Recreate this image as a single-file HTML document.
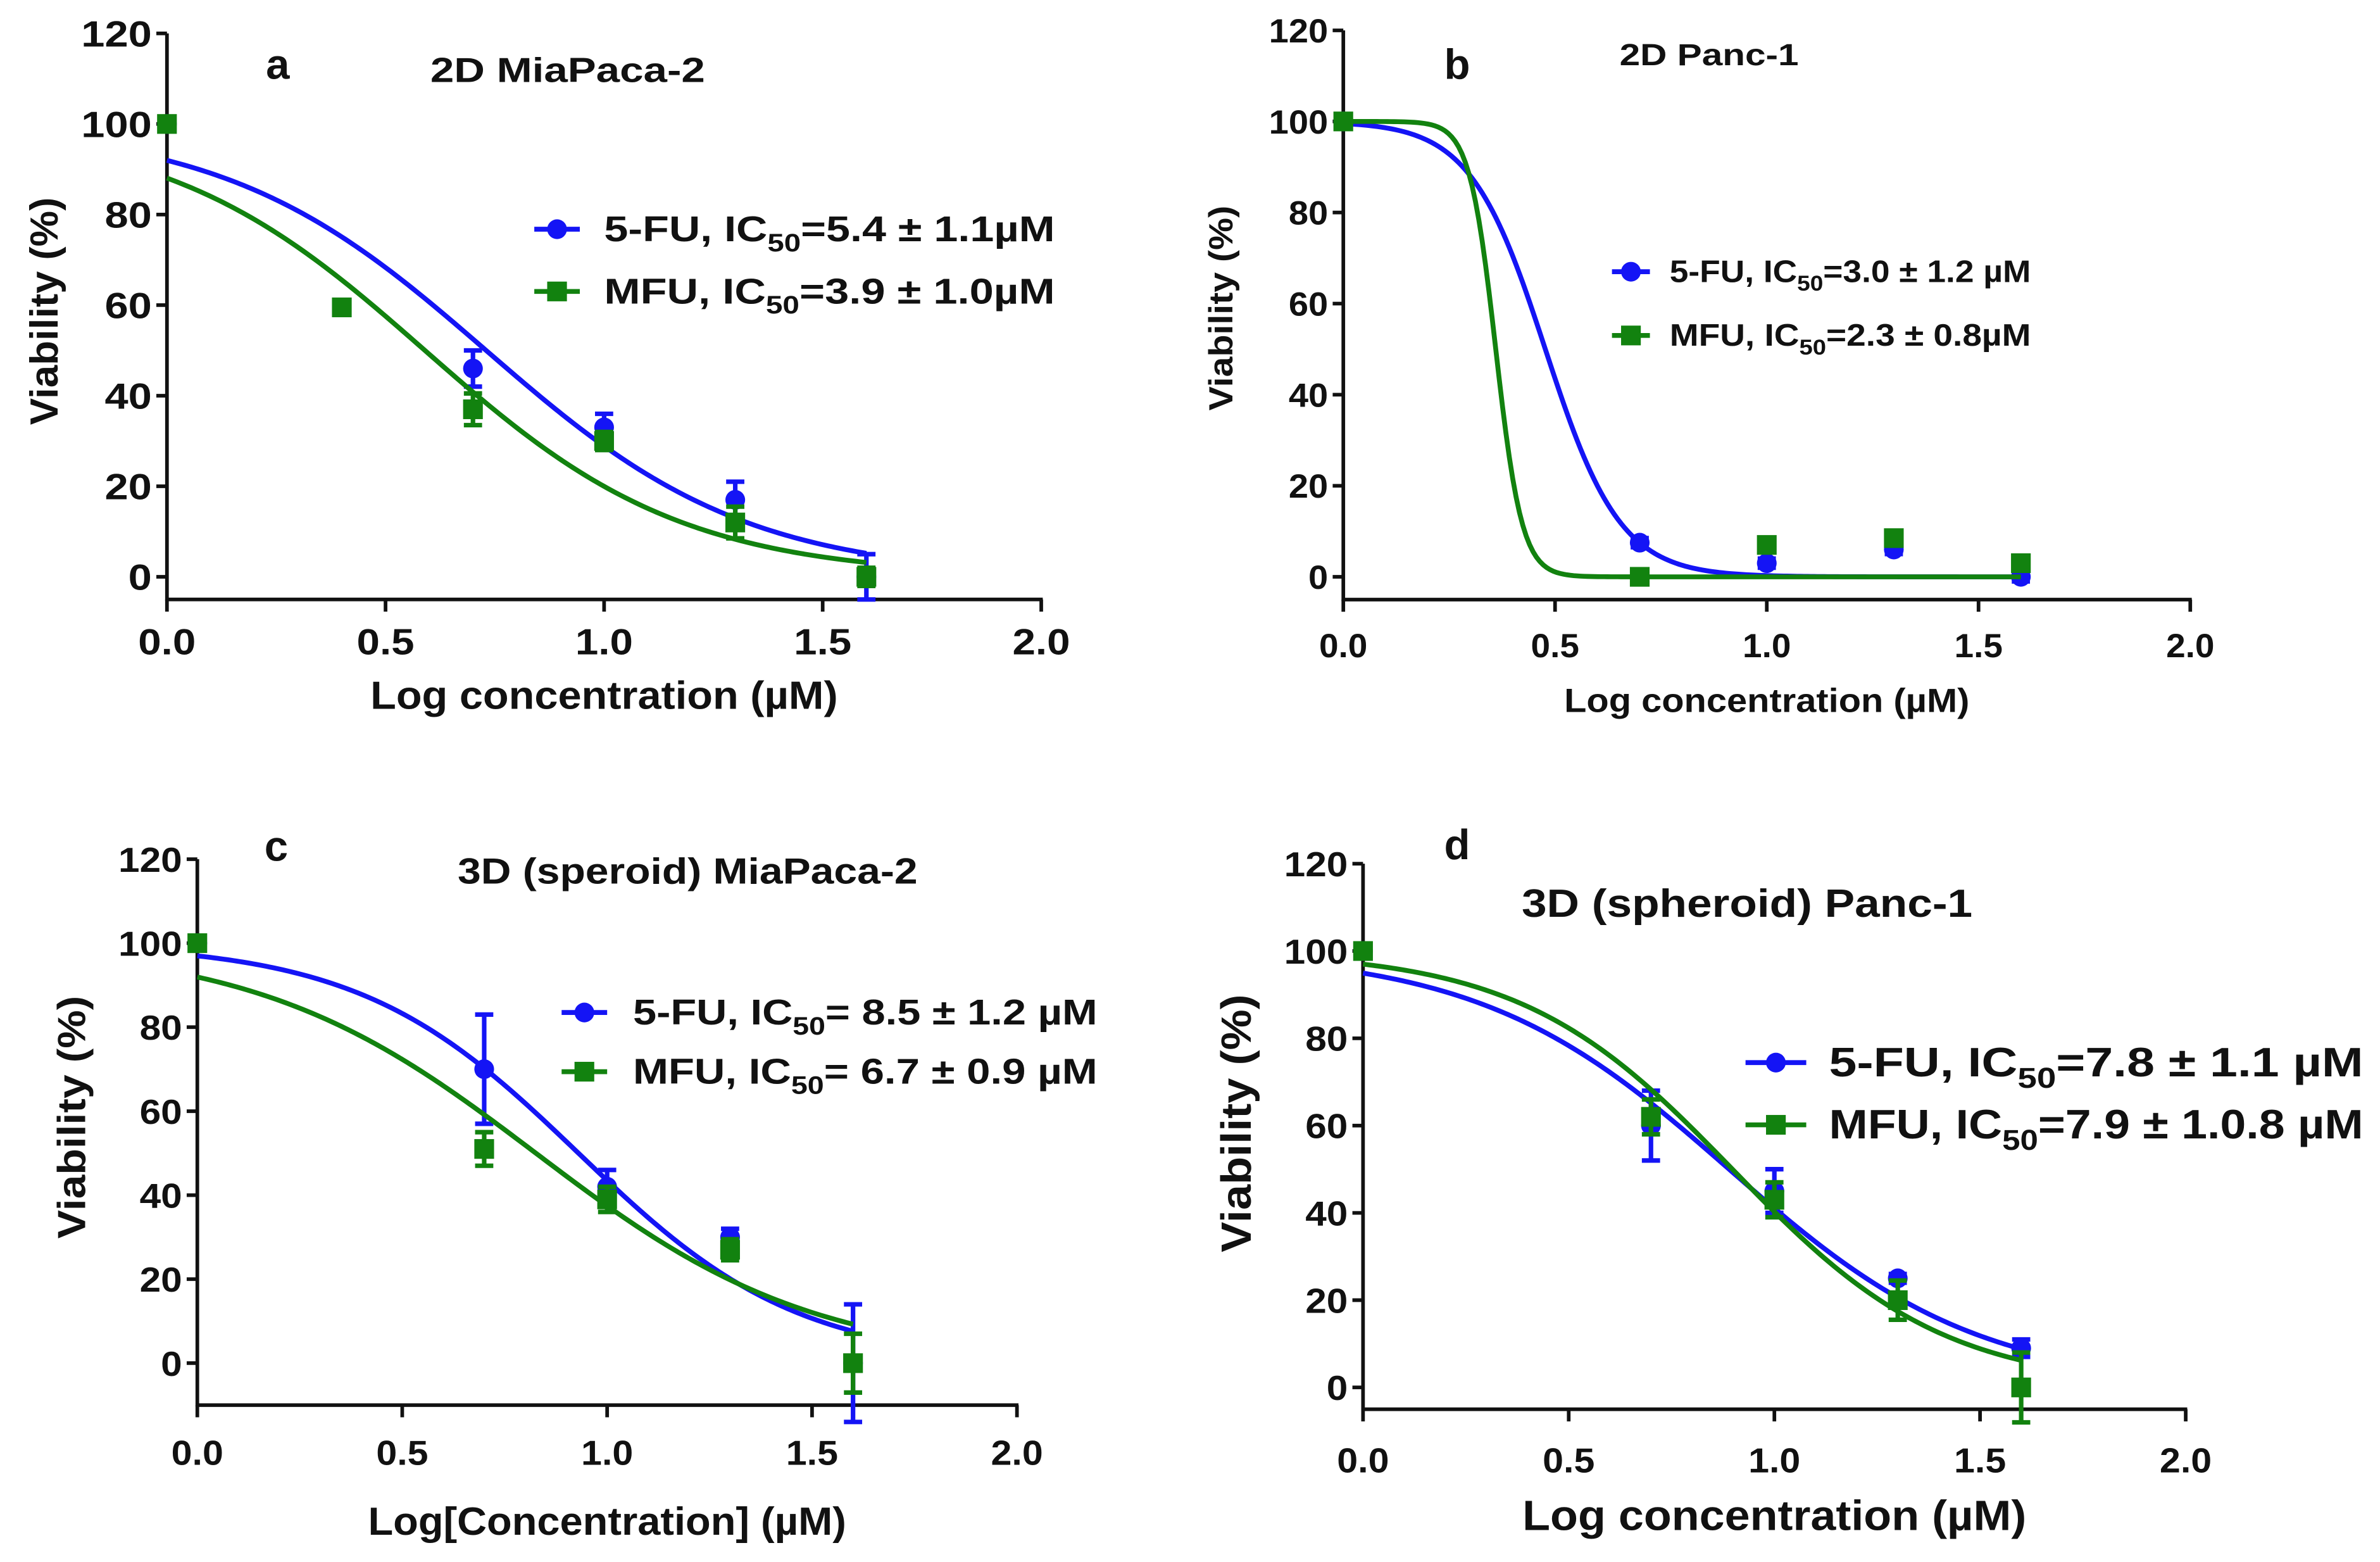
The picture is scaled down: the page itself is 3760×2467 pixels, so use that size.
<!DOCTYPE html>
<html><head><meta charset="utf-8"><style>
html,body{margin:0;padding:0;background:#fff}
svg{display:block}
text{font-family:"Liberation Sans Narrow","Liberation Sans",sans-serif;font-weight:bold;fill:#111}
</style></head><body>
<svg id="fig" width="3760" height="2467" viewBox="0 0 1568 1029" preserveAspectRatio="none" xmlns="http://www.w3.org/2000/svg"></svg>
<script>
// ---- data ----
const xTicks = [0, 0.5, 1.0, 1.5, 2.0];
const xTickLabels = ["0.0", "0.5", "1.0", "1.5", "2.0"];
const yTicks = [0, 20, 40, 60, 80, 100, 120];
const yTickLabels = ["0", "20", "40", "60", "80", "100", "120"];
// Panel a
const aFuX = [0, 0.7, 1.0, 1.3, 1.6];
const aFuY = [100, 46, 33, 17, 0];
const aFuErr = [0, 4, 3, 4, 5];
const aMfuX = [0, 0.4, 0.7, 1.0, 1.3, 1.6];
const aMfuY = [100, 59.5, 37, 30, 12, 0];
const aMfuErr = [0, 0, 3.5, 2, 3.5, 2];
const aFuFit = [100, 0, 0.73, 1.45];   // top, bottom, logIC50, hill
const aMfuFit = [100, 0, 0.59, 1.47];
// Panel b
const bFuX = [0, 0.7, 1.0, 1.3, 1.6];
const bFuY = [100, 7.5, 3, 6, 0];
const bFuErr = [0, 1, 1, 1, 1];
const bMfuX = [0, 0.7, 1.0, 1.3, 1.6];
const bMfuY = [100, 0, 7, 8.5, 3];
const bMfuErr = [0, 1, 1, 1, 1];
const bFuFit = [100, 0, 0.477, 4.9];
const bMfuFit = [100, 0, 0.36, 14];
// Panel c
const cFuX = [0, 0.7, 1.0, 1.3, 1.6];
const cFuY = [100, 70, 42, 30, 0];
const cFuErr = [0, 13, 4, 2, 14];
const cMfuX = [0, 0.7, 1.0, 1.3, 1.6];
const cMfuY = [100, 51, 39, 27, 0];
const cMfuErr = [0, 4, 3, 2.5, 7];
const cFuFit = [100, 0, 0.93, 1.62];
const cMfuFit = [100, 0, 0.826, 1.28];
// Panel d
const dFuX = [0, 0.7, 1.0, 1.3, 1.6];
const dFuY = [100, 60, 45, 25, 9];
const dFuErr = [0, 8, 5, 1, 2];
const dMfuX = [0, 0.7, 1.0, 1.3, 1.6];
const dMfuY = [100, 62, 43, 20, 0];
const dMfuErr = [0, 4, 4, 4.5, 8];
const dFuFit = [100, 0, 0.89, 1.43];
const dMfuFit = [100, 0, 0.898, 1.68];

const BLUE = "#1414f5", GREEN = "#12820f";
const svg = document.getElementById('fig');
const NS = "http://www.w3.org/2000/svg";
function mk(tag, attrs, parent) {
  const e = document.createElementNS(NS, tag);
  for (const k in attrs) e.setAttribute(k, attrs[k]);
  (parent || svg).appendChild(e);
  return e;
}
function tlen(s, dw) { let w = 0; for (const c of s) w += (c === '.') ? dw * 0.45 : dw; return w; }

const panels = [
  {id:'a', x0:110, x1:686, y0:380, y120:22, yMin:-5, tickFs:24, dw:15.5, titleFs:26, xTitleW:308, yTitleW:150, tickLabY:431,
   xTitle:"Log concentration (µM)", xTitleY:467, yTitleX:38, yTitleY:205,
   letter:[183,52,28], title:["2D MiaPaca-2",374,54,23,181], legY:[151,192], legX:[352,382,398], legFs:22, legW:297,
   fu:[aFuX,aFuY,aFuErr,aFuFit], mfu:[aMfuX,aMfuY,aMfuErr,aMfuFit],
   labels:["5-FU, IC","=5.4 ± 1.1µM","MFU, IC","=3.9 ± 1.0µM"]},
  {id:'b', x0:885, x1:1443, y0:380, y120:20, yMin:-5, tickFs:22, dw:13, titleFs:22, xTitleW:267, yTitleW:135, tickLabY:433,
   xTitle:"Log concentration (µM)", xTitleY:469, yTitleX:812, yTitleY:203,
   letter:[960,52,28], title:["2D Panc-1",1126,43,20,118], legY:[179,221], legX:[1062,1087,1100], legFs:19, legW:238,
   fu:[bFuX,bFuY,bFuErr,bFuFit], mfu:[bMfuX,bMfuY,bMfuErr,bMfuFit],
   labels:["5-FU, IC","=3.0 ± 1.2 µM","MFU, IC","=2.3 ± 0.8µM"]},
  {id:'c', x0:130, x1:670, y0:898, y120:566, yMin:-10, tickFs:23, dw:14, titleFs:26, xTitleW:315, yTitleW:160, tickLabY:965,
   xTitle:"Log[Concentration] (µM)", xTitleY:1011, yTitleX:56, yTitleY:736,
   letter:[182,567,28], title:["3D (speroid) MiaPaca-2",453,582,24,303], legY:[667,706], legX:[370,400,417], legFs:22, legW:306,
   fu:[cFuX,cFuY,cFuErr,cFuFit], mfu:[cMfuX,cMfuY,cMfuErr,cMfuFit],
   labels:["5-FU, IC","= 8.5 ± 1.2 µM","MFU, IC","= 6.7 ± 0.9 µM"]},
  {id:'d', x0:898, x1:1440, y0:914, y120:569, yMin:-5, tickFs:23, dw:14, titleFs:28, xTitleW:332, yTitleW:170, tickLabY:970,
   xTitle:"Log concentration (µM)", xTitleY:1008, yTitleX:824, yTitleY:740,
   letter:[960,566,28], title:["3D (spheroid) Panc-1",1151,604,26,297], legY:[700,741], legX:[1150,1190,1205], legFs:25, legW:352,
   fu:[dFuX,dFuY,dFuErr,dFuFit], mfu:[dMfuX,dMfuY,dMfuErr,dMfuFit],
   labels:["5-FU, IC","=7.8 ± 1.1 µM","MFU, IC","=7.9 ± 1.0.8 µM"]}
];

function logistic(x, p) { return p[1] + (p[0]-p[1]) / (1 + Math.pow(10, (x - p[2]) * p[3])); }

panels.forEach(P => {
  const g = mk('g', {});
  
  
  const sx = v => P.x0 + (P.x1 - P.x0) * v / 2;
  const sy = v => P.y0 - (P.y0 - P.y120) * v / 120;
  const yAxisBottom = sy(P.yMin);
  const ya = mk('line', {x1:P.x0, y1:P.y120, x2:P.x0, y2:yAxisBottom + 1, stroke:'#111', 'stroke-width':2.4}, g);
  
  
  const xa = mk('line', {x1:P.x0 - 1, y1:yAxisBottom, x2:P.x1 + 1, y2:yAxisBottom, stroke:'#111', 'stroke-width':2.4}, g);
  
  
  yTicks.forEach((t, i) => {
    mk('line', {x1:P.x0 - 7, y1:sy(t), x2:P.x0, y2:sy(t), stroke:'#111', 'stroke-width':2.4}, g);
    const tx = mk('text', {x:P.x0 - 10, y:sy(t) + P.tickFs * 0.36, 'text-anchor':'end', 'font-size':P.tickFs,
      textLength:tlen(yTickLabels[i], P.dw), lengthAdjust:'spacingAndGlyphs'}, g);
    tx.textContent = yTickLabels[i];
    
    
  });
  xTicks.forEach((t, i) => {
    mk('line', {x1:sx(t), y1:yAxisBottom, x2:sx(t), y2:yAxisBottom + 8, stroke:'#111', 'stroke-width':2.4}, g);
    const tx = mk('text', {x:sx(t), y:P.tickLabY, 'text-anchor':'middle', 'font-size':P.tickFs,
      textLength:tlen(xTickLabels[i], P.dw), lengthAdjust:'spacingAndGlyphs'}, g);
    tx.textContent = xTickLabels[i];
    
    
  });
  const xt = mk('text', {x:(P.x0 + P.x1) / 2, y:P.xTitleY, 'text-anchor':'middle', 'font-size':P.titleFs,
    textLength:P.xTitleW, lengthAdjust:'spacingAndGlyphs'}, g);
  xt.textContent = P.xTitle;
  
  
  const yt = mk('text', {x:0, y:0, 'text-anchor':'middle', 'font-size':P.titleFs, textLength:P.yTitleW, lengthAdjust:'spacingAndGlyphs',
    transform:`translate(${P.yTitleX},${P.yTitleY}) rotate(-90)`}, g);
  yt.textContent = "Viability (%)";
  
  
  const lt = mk('text', {x:P.letter[0], y:P.letter[1], 'text-anchor':'middle', 'font-size':P.letter[2], 'font-family':'Liberation Sans'}, g);
  lt.textContent = P.id;
  
  
  const tt = mk('text', {x:P.title[1], y:P.title[2], 'text-anchor':'middle', 'font-size':P.title[3],
    textLength:P.title[4], lengthAdjust:'spacingAndGlyphs'}, g);
  tt.textContent = P.title[0];
  
  

  [[P.fu, BLUE, 'circle', '5-FU'], [P.mfu, GREEN, 'square', 'MFU']].forEach(([S, col, shape, nm], si) => {
    const [xs, ys, errs, fit] = S;
    let d = '';
    const xEnd = xs[xs.length - 1];
    for (let i = 0; i <= 200; i++) {
      const xv = xEnd * i / 200;
      d += (i ? 'L' : 'M') + sx(xv).toFixed(2) + ',' + sy(logistic(xv, fit)).toFixed(2);
    }
    const curve = mk('path', {d:d, fill:'none', stroke:col, 'stroke-width':3.2}, g);
    
    
    xs.forEach((xv, i) => {
      const cx = sx(xv), cy = sy(ys[i]);
      if (errs[i] > 0) {
        const eb = mk('path', {d:`M${cx},${sy(ys[i]-errs[i])}L${cx},${sy(ys[i]+errs[i])}M${cx-6},${sy(ys[i]+errs[i])}L${cx+6},${sy(ys[i]+errs[i])}M${cx-6},${sy(ys[i]-errs[i])}L${cx+6},${sy(ys[i]-errs[i])}`,
          stroke:col, 'stroke-width':3, fill:'none'}, g);
        
        
      }
      let m;
      if (shape === 'circle') m = mk('circle', {cx:cx, cy:cy, r:6.5, fill:col}, g);
      else m = mk('rect', {x:cx - 6.5, y:cy - 6.5, width:13, height:13, fill:col}, g);
      
      
    });
    const ly = P.legY[si];
    const lg = mk('g', {}, g);
    
    
    mk('line', {x1:P.legX[0], y1:ly, x2:P.legX[1], y2:ly, stroke:col, 'stroke-width':3.2}, lg);
    const mx = (P.legX[0] + P.legX[1]) / 2;
    if (shape === 'circle') mk('circle', {cx:mx, cy:ly, r:6.5, fill:col}, lg);
    else mk('rect', {x:mx - 6.5, y:ly - 6.5, width:13, height:13, fill:col}, lg);
    const tx = mk('text', {x:P.legX[2], y:ly + P.legFs * 0.36, 'font-size':P.legFs * 1.08, textLength:P.legW, lengthAdjust:'spacingAndGlyphs'}, lg);
    const t1 = mk('tspan', {}, tx); t1.textContent = P.labels[si * 2];
    const t2 = mk('tspan', {dy:P.legFs * 0.3, 'font-size':P.legFs * 0.75}, tx); t2.textContent = '50';
    const t3 = mk('tspan', {dy:-P.legFs * 0.3}, tx); t3.textContent = P.labels[si * 2 + 1];
  });
});
</script>
</body></html>
